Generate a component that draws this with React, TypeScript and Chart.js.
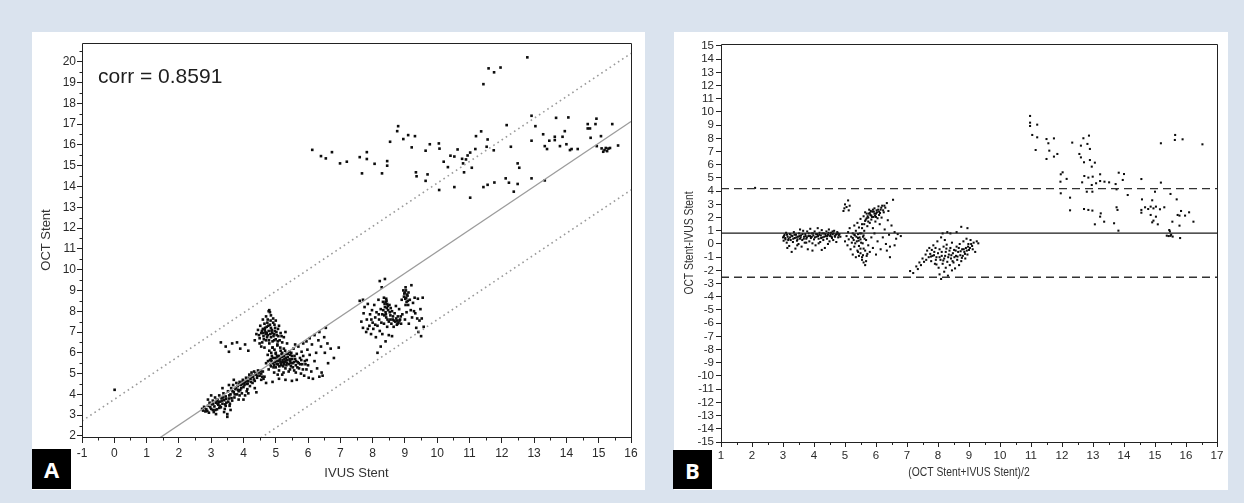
import React, { useEffect, useRef } from "react";
import { Chart, registerables } from "chart.js";

Chart.register(...registerables);

type P = [number, number];

// ---------------- Panel A : OCT Stent vs IVUS Stent ----------------
const aOutlier: P[] = [[0.01, 4.22]];

const aClusterLow: P[] = [
  [2.72,3.30],[2.75,3.22],[2.80,3.35],[2.82,3.18],[2.85,3.28],[2.9,3.45],[2.93,3.12],[2.95,3.6],[3.0,3.3],[3.02,3.52],
  [3.05,3.7],[3.08,3.15],[3.1,3.42],[3.12,3.85],[3.15,3.6],[3.18,3.28],[3.2,3.75],[3.22,3.5],[3.25,3.95],[3.28,3.65],
  [3.3,3.38],[3.32,3.82],[3.35,3.55],[3.38,4.05],[3.4,3.72],[3.42,3.3],[3.45,3.9],[3.47,3.6],[3.5,2.92],[3.5,3.05],
  [3.52,4.15],[3.55,3.8],[3.57,3.45],[3.6,4.0],[3.62,4.3],[3.65,3.7],[3.68,4.45],[3.7,4.1],[3.72,3.85],[3.75,4.25],
  [3.78,4.55],[3.8,4.0],[3.82,4.4],[3.85,3.75],[3.88,4.6],[3.9,4.2],[3.92,4.45],[3.95,4.05],[3.98,4.7],[4.0,4.35],
  [4.02,4.55],[4.05,3.95],[4.08,4.8],[4.1,4.5],[4.12,4.25],[4.15,4.65],[4.18,4.95],[4.2,4.4],[4.22,4.75],[4.25,5.05],
  [4.28,4.55],[4.3,4.85],[4.33,5.1],[4.35,4.65],[4.38,4.95],[4.42,4.8],[4.45,5.15],[4.5,4.9],[4.55,5.0],[4.62,4.75],
  [4.7,4.55],[3.0,3.95],[2.9,3.75],[3.6,3.25],[4.0,3.75],[4.15,4.05],[3.35,4.3],[3.7,4.7],[4.35,4.3],[3.15,3.05],
  [3.45,3.45],[3.85,4.15],[4.05,4.6],[4.25,4.85],[3.25,3.35],[3.95,4.5],[4.4,4.1],[3.55,4.45]
];
const aClusterLowDense: P[] = [
  [2.78,3.4],[2.88,3.2],[2.97,3.38],[3.06,3.55],[3.13,3.25],[3.17,3.7],[3.23,3.62],[3.27,3.45],[3.33,3.7],[3.37,3.85],
  [3.43,3.52],[3.46,3.78],[3.53,3.65],[3.56,3.95],[3.63,3.82],[3.66,4.15],[3.73,4.0],[3.77,4.32],[3.83,4.22],[3.87,4.48],
  [3.93,4.3],[3.97,4.6],[4.03,4.45],[4.07,4.65],[4.13,4.52],[4.17,4.8],[4.23,4.6],[4.27,4.9],[4.32,4.72],[4.37,5.02],
  [4.43,4.9],[4.47,5.05],[4.53,5.12],[4.58,4.85],[3.4,3.15],[3.58,3.55],[3.88,3.95],[4.1,4.15],[3.2,3.55],[3.05,3.25]
];

const aClusterUpper: P[] = [
  [4.4,6.9],[4.45,7.1],[4.5,6.7],[4.52,7.3],[4.55,6.95],[4.58,6.5],[4.6,7.15],[4.62,6.8],[4.65,7.4],[4.68,7.0],
  [4.7,6.6],[4.72,7.25],[4.75,6.85],[4.75,7.6],[4.78,7.05],[4.8,8.05],[4.8,6.45],[4.82,7.35],[4.85,6.75],[4.85,7.8],
  [4.88,7.1],[4.9,6.55],[4.92,7.45],[4.95,6.9],[4.98,7.2],[5.0,6.65],[5.02,7.0],[5.05,6.4],[5.08,6.8],[5.1,7.3],
  [5.12,6.6],[5.15,6.95],[5.2,6.5],[5.25,6.75],[4.55,6.3],[4.65,6.25],[4.9,6.25],[5.0,7.55],[4.7,7.75],[4.6,7.6],
  [5.3,7.0],[4.5,6.45],[4.35,6.6],[4.72,6.95],[4.85,7.2],[4.95,6.6]
];
const aClusterUpperDense: P[] = [
  [4.48,6.85],[4.57,7.05],[4.63,6.65],[4.67,7.2],[4.73,6.75],[4.77,7.3],[4.83,6.9],[4.87,7.05],[4.93,6.8],[4.97,7.05],
  [5.03,6.85],[5.07,7.15],[4.69,6.9],[4.79,6.6],[4.89,6.95],[4.61,6.95],[4.74,7.45],[4.84,7.55],[4.96,7.35],[5.06,6.55],
  [5.18,6.8],[4.78,8.0],[4.82,7.95],[4.66,7.1],[4.92,7.65]
];

const aScatterLeft: P[] = [
  [3.3,6.5],[3.45,6.3],[3.55,6.05],[3.65,6.45],[3.8,6.5],[3.9,6.2],[4.05,6.4],[4.15,6.1]
];

const aClusterMid: P[] = [
  [4.7,5.5],[4.75,5.9],[4.78,5.2],[4.8,6.1],[4.82,5.65],[4.85,5.35],[4.88,5.85],[4.9,6.25],[4.92,5.5],[4.95,5.05],
  [4.97,5.75],[5.0,6.0],[5.0,5.3],[5.02,5.6],[5.05,6.35],[5.07,5.45],[5.1,5.85],[5.1,5.15],[5.12,5.65],[5.15,6.1],
  [5.17,5.4],[5.2,5.8],[5.2,4.95],[5.22,5.55],[5.25,6.2],[5.27,5.7],[5.3,5.25],[5.32,5.95],[5.35,5.5],[5.37,5.8],
  [5.4,5.1],[5.42,6.05],[5.45,5.6],[5.47,5.35],[5.5,5.85],[5.52,5.5],[5.55,6.2],[5.57,5.15],[5.6,5.7],[5.62,5.4],
  [5.65,5.95],[5.68,5.55],[5.7,6.3],[5.72,5.25],[5.75,5.75],[5.78,5.0],[5.8,6.05],[5.82,5.45],[5.85,5.85],[5.88,4.9],
  [5.9,5.6],[5.95,5.2],[5.98,6.15],[6.0,5.4],[6.02,4.8],[6.05,5.9],[6.1,5.1],[6.12,6.4],[6.15,4.75],[6.2,5.6],
  [6.25,6.0],[6.28,5.25],[6.32,6.6],[6.35,4.85],[6.4,6.3],[6.42,5.05],[6.45,4.9],[6.5,6.75],[6.52,6.0],[6.55,7.2],
  [6.6,6.45],[6.62,5.5],[6.7,6.2],[6.8,5.75],[6.95,6.25],[5.1,4.75],[4.9,4.6],[4.65,4.85],[5.3,4.7],[5.5,4.65],
  [5.65,4.7],[4.6,5.1],[4.55,4.7],[5.95,6.55],[6.05,6.7],[6.2,6.85],[6.35,7.0],[5.85,6.45],[5.6,6.4],[5.35,6.45],
  [4.95,5.4],[5.05,5.75],[5.15,5.55],[5.25,5.45],[5.35,5.65],[5.45,5.9],[5.0,5.95],[5.2,6.0],[4.85,5.7],[5.3,5.6]
];
const aClusterMidDense: P[] = [
  [4.83,5.45],[4.87,5.6],[4.91,5.75],[4.93,5.3],[4.98,5.55],[5.03,5.45],[5.04,5.85],[5.08,5.6],[5.11,5.35],[5.13,5.75],
  [5.16,5.5],[5.18,5.95],[5.21,5.65],[5.23,5.35],[5.26,5.85],[5.28,5.55],[5.31,5.75],[5.33,5.4],[5.36,5.65],[5.38,5.95],
  [5.41,5.45],[5.43,5.7],[5.46,5.5],[5.48,6.0],[5.51,5.7],[5.53,5.3],[5.56,5.55],[5.58,5.85],[5.63,5.6],[5.67,5.3],
  [5.71,5.5],[5.76,5.45],[5.79,5.65],[5.84,5.2],[5.92,5.45],[4.96,6.15],[5.14,6.25],[5.29,6.1],[4.76,5.6],[4.86,6.0],
  [5.06,4.95],[5.24,5.05],[5.44,5.2],[5.62,5.05],[5.96,5.65]
];

const aClusterRight: P[] = [
  [7.6,8.5],[7.65,7.5],[7.7,7.2],[7.72,7.9],[7.75,8.2],[7.8,7.0],[7.82,7.6],[7.85,8.35],[7.9,7.3],[7.92,7.85],
  [7.95,6.9],[7.98,8.05],[8.0,7.45],[8.02,7.15],[8.05,8.3],[8.08,7.7],[8.1,6.75],[8.12,7.95],[8.15,7.3],[8.15,6.0],
  [8.18,8.55],[8.2,7.6],[8.22,9.45],[8.22,7.05],[8.25,8.1],[8.28,9.15],[8.3,7.85],[8.32,8.45],[8.35,7.4],[8.35,8.65],
  [8.38,9.55],[8.38,8.2],[8.4,7.95],[8.4,6.55],[8.42,8.6],[8.42,7.7],[8.45,8.35],[8.45,7.25],[8.48,8.05],[8.5,7.5],
  [8.5,6.85],[8.52,8.3],[8.55,7.8],[8.58,7.4],[8.6,8.0],[8.62,7.6],[8.65,7.25],[8.68,7.9],[8.7,7.5],[8.72,8.25],
  [8.75,7.35],[8.78,7.75],[8.8,7.45],[8.82,8.1],[8.85,7.6],[8.88,7.4],[8.9,8.55],[8.92,7.85],[8.95,9.0],[8.97,8.7],
  [9.0,8.9],[9.0,7.6],[9.02,9.15],[9.05,8.45],[9.05,7.95],[9.08,8.75],[9.1,8.3],[9.12,7.4],[9.15,8.55],[9.18,8.05],
  [9.2,9.25],[9.22,7.7],[9.25,8.4],[9.3,8.65],[9.32,7.9],[9.35,7.2],[9.4,8.6],[9.42,7.0],[9.45,7.55],[9.48,8.1],
  [9.5,6.8],[9.52,7.65],[9.55,8.65],[9.58,7.25],[8.25,6.3],[8.3,6.9],[8.6,6.8],[7.7,8.55],[7.85,7.15],[8.4,8.45],
  [8.44,8.15],[8.36,7.8],[9.04,8.65],[9.02,8.3],[8.75,7.55],[8.55,7.6]
];
const aClusterRightDense: P[] = [
  [8.33,8.05],[8.37,8.35],[8.41,7.85],[8.43,8.5],[8.46,7.6],[8.47,8.25],[8.53,7.95],[8.56,8.15],[8.63,7.75],[8.66,7.55],
  [8.73,7.65],[8.77,7.4],[8.83,7.55],[8.87,7.75],[8.98,8.85],[9.01,8.6],[9.03,9.0],[9.06,8.8],[9.09,8.5],[9.11,8.9],
  [8.27,7.45],[8.19,7.85],[8.08,7.35],[7.96,7.6],[9.28,8.0],[9.38,7.65]
];

const aHighScatter: P[] = [
  [6.13,15.76],[6.4,15.46],[6.55,15.35],[6.74,15.65],[6.99,15.11],[7.2,15.19],[7.6,15.41],[7.82,15.65],[7.67,14.63],[7.82,15.32],
  [8.06,15.09],[8.29,14.63],[8.45,15.22],[8.45,15.0],
  [12.79,20.21],[11.59,19.68],[11.76,19.49],[11.96,19.72],[11.43,18.92],[8.79,16.9],[8.76,16.66],[8.54,16.15],[8.95,16.28],[9.1,16.47],
  [9.31,16.42],[9.21,15.88],[9.64,15.72],[9.77,16.03],[10.05,16.07],[10.07,15.82],[9.34,14.68],[9.36,14.49],[9.7,14.58],[9.64,14.27],
  [10.06,13.83],[10.2,15.19],[10.33,14.93],[10.41,15.48],[10.53,15.44],[10.63,15.78],[10.77,15.33],[10.8,15.11],[10.89,15.3],[10.94,15.49],
  [11.02,15.63],[11.18,15.8],[11.2,16.42],[11.36,16.65],[11.07,14.9],[10.83,14.68],[10.53,13.97],[11.02,13.46],[11.56,16.26],[11.53,15.91],
  [11.75,15.74],[11.43,13.97],[11.56,14.08],[11.77,14.19],[12.15,16.95],[12.28,15.91],[12.12,14.39],[12.22,14.18],[12.37,13.75],[12.49,14.12],
  [12.49,15.11],[12.54,14.9],[12.92,17.4],[13.04,16.9],[12.92,16.2],[12.92,14.39],[13.33,14.29],[13.28,16.51],[13.33,15.94],[13.4,15.8],
  [13.47,16.2],[13.64,16.39],[13.64,16.23],[13.68,17.3],[13.8,15.94],[13.88,16.39],[13.95,16.66],[14.06,17.32],[14.0,16.03],[14.11,15.75],
  [14.16,15.8],[14.35,15.8],[14.66,17.0],[14.66,16.79],[14.73,16.79],[14.93,17.26],[14.75,16.34],[14.9,17.0],[15.07,16.42],[14.94,15.94],
  [15.09,15.83],[15.14,15.67],[15.18,15.75],[15.22,15.85],[15.26,15.7],[15.3,15.82],[15.35,15.85],[15.42,17.0],[15.6,15.97]
];

const aFitLine: P[] = [[-1, -0.6], [16, 17.12]];
const aUpperBand: P[] = [[-1, 2.72], [16, 20.4]];
const aLowerBand: P[] = [[-1, -3.85], [16, 13.83]];

const aXMin = -1, aXMax = 16, aYMin = 1.95, aYMax = 20.9;
const aMinorX = [-0.5,0.5,1.5,2.5,3.5,4.5,5.5,6.5,7.5,8.5,9.5,10.5,11.5,12.5,13.5,14.5,15.5];
const aMinorY = [2.5,3.5,4.5,5.5,6.5,7.5,8.5,9.5,10.5,11.5,12.5,13.5,14.5,15.5,16.5,17.5,18.5,19.5,20.5];
const aCorrText = "corr = 0.8591";
const aXTitle = "IVUS Stent";
const aYTitle = "OCT Stent";

// ---------------- Panel B : Bland-Altman ----------------
const bOutlier: P[] = [[2.1, 4.25]];

const bClusterLeft: P[] = [
  [3.0,0.5],[3.02,0.25],[3.05,0.7],[3.08,0.35],[3.1,0.85],[3.12,0.1],[3.15,0.55],[3.18,0.4],[3.2,-0.15],[3.22,0.75],
  [3.25,0.3],[3.28,-0.6],[3.3,0.6],[3.32,0.15],[3.35,0.9],[3.38,0.45],[3.4,-0.35],[3.42,0.7],[3.45,0.25],[3.48,0.55],
  [3.5,0.0],[3.52,0.8],[3.55,0.4],[3.58,0.65],[3.6,-0.2],[3.62,0.3],[3.65,1.0],[3.68,0.55],[3.7,0.1],[3.72,0.75],
  [3.75,0.4],[3.78,0.95],[3.8,-0.4],[3.82,0.6],[3.85,0.2],[3.88,1.15],[3.9,0.45],[3.92,0.8],[3.95,0.05],[3.98,0.65],
  [4.0,0.35],[4.02,0.95],[4.05,-0.1],[4.08,0.55],[4.1,0.75],[4.12,1.2],[4.15,0.4],[4.18,0.85],[4.2,0.15],[4.22,0.65],
  [4.25,1.05],[4.28,0.5],[4.3,0.3],[4.32,0.8],[4.35,-0.3],[4.38,0.6],[4.4,0.95],[4.42,0.4],[4.45,0.7],[4.48,1.1],
  [4.5,0.2],[4.52,0.6],[4.55,0.85],[4.58,0.45],[4.6,0.75],[4.62,0.3],[4.65,1.0],[4.68,0.55],[4.7,0.7],[4.72,0.15],
  [4.75,0.9],[4.78,0.5],[4.8,0.65],[3.95,-0.5],[4.25,-0.45],[4.45,0.0],[3.55,1.1],[3.75,0.1],[4.15,0.05],[4.6,0.95]
];
const bClusterLeftDense: P[] = [
  [3.03,0.6],[3.07,0.45],[3.13,0.7],[3.17,0.3],[3.23,0.5],[3.27,0.65],[3.33,0.4],[3.37,0.7],[3.43,0.5],[3.47,0.35],
  [3.53,0.6],[3.57,0.5],[3.63,0.75],[3.67,0.4],[3.73,0.6],[3.77,0.5],[3.83,0.8],[3.87,0.6],[3.93,0.55],[3.97,0.8],
  [4.03,0.5],[4.07,0.75],[4.13,0.6],[4.17,0.7],[4.23,0.45],[4.27,0.8],[4.33,0.55],[4.37,0.75],[4.43,0.6],[4.47,0.85],
  [4.53,0.7],[4.57,0.55],[4.63,0.8],[4.67,0.6],[4.73,0.75],[4.77,0.8],[4.82,0.75],[4.85,0.55],[3.14,-0.3],[3.46,-0.1]
];

const bClusterMid: P[] = [
  [4.95,2.5],[4.98,2.7],[5.0,3.0],[5.05,2.8],[5.1,3.3],[5.12,2.55],[5.15,2.9],
  [5.0,0.2],[5.05,0.6],[5.08,-0.1],[5.1,0.9],[5.12,0.35],[5.15,1.2],[5.18,-0.4],[5.2,0.55],[5.22,0.1],
  [5.25,0.8],[5.25,-0.8],[5.28,0.3],[5.3,1.4],[5.3,-0.2],[5.32,0.65],[5.35,-1.0],[5.35,1.0],[5.38,0.2],[5.4,-0.5],
  [5.4,1.6],[5.42,0.45],[5.45,-0.15],[5.45,1.25],[5.48,0.8],[5.5,-0.7],[5.5,1.9],[5.52,0.1],[5.55,1.5],[5.55,-1.2],
  [5.58,0.55],[5.6,2.1],[5.6,-0.35],[5.62,1.0],[5.65,-1.6],[5.65,1.75],[5.68,0.3],[5.7,2.3],[5.7,-0.9],[5.72,1.35],
  [5.75,2.0],[5.75,-0.1],[5.78,2.6],[5.8,1.6],[5.8,-0.6],[5.82,2.2],[5.85,0.5],[5.85,1.85],[5.88,2.45],[5.9,-0.3],
  [5.9,1.2],[5.92,2.05],[5.95,2.7],[5.95,0.8],[5.98,1.7],[6.0,2.3],[6.0,-0.8],[6.02,2.55],[6.05,1.95],[6.05,0.2],
  [6.08,2.85],[6.1,2.2],[6.12,1.5],[6.15,2.6],[6.15,-0.4],[6.18,2.0],[6.2,2.9],[6.22,0.5],[6.25,2.4],[6.28,1.1],
  [6.3,2.75],[6.32,0.0],[6.35,3.1],[6.38,1.8],[6.4,2.5],[6.42,0.7],[6.45,-0.2],[6.5,1.4],[6.55,3.35],[6.6,0.9],
  [6.6,-0.1],[6.65,0.4],[6.7,0.75],[6.8,0.6],[6.45,-1.0],[6.35,-0.5],[5.6,-1.4],[5.68,-1.3],[5.55,-1.0],[5.45,-0.9],
  [5.72,-0.75],[5.65,2.4],[5.9,2.6],[6.0,2.05],[5.8,2.35],[6.1,2.45],[5.7,1.95],[5.95,2.3]
];
const bClusterMidDense: P[] = [
  [5.25,0.45],[5.3,0.7],[5.33,0.05],[5.37,0.55],[5.42,0.75],[5.44,0.25],[5.47,0.5],[5.5,0.35],[5.53,0.8],[5.57,0.05],
  [5.6,0.65],[5.63,0.4],[5.55,1.2],[5.62,1.5],[5.67,1.85],[5.73,2.1],[5.77,2.3],[5.83,2.5],[5.87,2.05],[5.93,2.45],
  [5.97,2.15],[6.03,2.4],[6.07,2.6],[6.13,2.35],[6.17,2.75],[6.23,2.55],[6.27,2.9],[5.75,1.7],[5.85,2.15],[5.65,-0.5],
  [5.58,-0.85],[5.5,-0.35],[5.42,-0.6]
];

const bClusterRight: P[] = [
  [7.1,-2.05],[7.2,-2.2],[7.3,-1.7],[7.35,-1.9],[7.4,-1.4],[7.45,-1.6],[7.5,-1.1],[7.55,-1.35],[7.6,-0.8],[7.62,-1.2],
  [7.65,-0.5],[7.7,-1.0],[7.72,-0.3],[7.75,-0.75],[7.78,-1.3],[7.8,-0.45],[7.82,-0.9],[7.85,-0.1],[7.88,-0.6],[7.9,-1.5],
  [7.92,-0.3],[7.95,-1.0],[7.98,0.2],[8.0,-0.7],[8.02,-1.8],[8.05,-0.4],[8.05,-2.3],[8.08,-1.2],[8.1,0.5],[8.1,-2.65],
  [8.12,-0.9],[8.15,-1.5],[8.15,0.8],[8.18,-0.2],[8.2,-2.1],[8.2,-1.1],[8.22,0.3],[8.25,-0.6],[8.25,-1.8],[8.28,-0.05],
  [8.3,-1.35],[8.3,0.9],[8.32,-2.4],[8.35,-0.8],[8.38,-1.6],[8.4,-0.3],[8.42,-1.1],[8.45,0.1],[8.45,-2.0],[8.48,-0.7],
  [8.5,-1.4],[8.52,-0.45],[8.55,-1.85],[8.58,-0.9],[8.6,-0.2],[8.62,-1.2],[8.65,-0.6],[8.68,-1.6],[8.7,0.0],[8.72,-0.85],
  [8.75,-1.3],[8.78,-0.4],[8.8,-0.9],[8.82,0.2],[8.85,-0.6],[8.88,-1.1],[8.9,-0.3],[8.92,0.4],[8.95,-0.8],[8.98,0.0],
  [9.0,-0.45],[9.05,0.3],[9.1,-0.15],[9.15,0.1],[9.2,-0.6],[9.25,0.2],[9.3,0.05],[8.75,1.3],[8.95,1.2],[8.6,0.9],
  [8.4,0.8],[7.95,-1.55]
];
const bClusterRightDense: P[] = [
  [8.05,-1.0],[8.12,-0.6],[8.17,-1.25],[8.23,-0.9],[8.27,-0.35],[8.33,-1.0],[8.37,-0.5],[8.43,-0.85],[8.47,-1.3],[8.53,-1.0],
  [8.57,-0.5],[8.63,-0.95],[8.67,-0.3],[8.73,-0.55],[8.77,-1.05],[8.83,-0.4],[8.87,-0.75],[8.93,-0.5],[8.97,-0.2],[9.03,-0.3],
  [9.07,0.0],[9.12,-0.4],[7.87,-0.85],[7.93,-1.2],[7.77,-0.95]
];

const bHighScatter: P[] = [
  [10.97,9.7],[10.97,9.19],[10.97,8.94],[11.2,9.04],[11.04,8.26],[11.2,8.08],[11.5,7.95],[11.56,7.63],[11.74,8.0],[11.15,7.12],
  [11.59,7.07],[11.85,6.82],[11.74,6.62],[11.5,6.44],[12.33,7.68],[12.61,7.45],[12.69,8.01],[12.87,8.21],[12.82,7.58],[12.9,7.2],
  [12.56,6.82],[12.61,6.56],[12.71,6.19],[12.9,6.36],[13.06,6.16],[12.96,5.86],[12.02,5.43],[11.96,5.28],[12.15,4.93],[11.95,4.72],
  [11.96,3.84],[12.26,3.51],[12.26,2.55],[12.72,5.15],[12.85,5.03],[12.99,5.1],[12.96,4.47],[13.1,4.6],[13.23,4.77],[13.37,4.72],
  [13.52,4.67],[13.23,5.28],[12.65,4.67],[12.8,3.96],[12.98,3.96],[13.73,4.54],[13.76,4.14],[13.83,5.4],[14.0,5.3],[13.96,4.85],
  [14.12,3.71],[12.71,2.65],[12.85,2.58],[12.98,2.53],[13.25,2.32],[13.23,2.07],[13.36,1.69],[13.06,1.49],[13.68,1.57],[13.79,2.58],
  [13.76,2.78],[13.82,1.01],[14.56,4.92],[15.19,4.65],[14.58,3.38],[14.91,3.31],[15.0,3.96],[15.5,3.79],[15.7,3.38],[14.56,2.58],
  [14.56,2.37],[14.68,2.78],[14.78,2.65],[14.86,2.83],[14.95,2.7],[15.03,2.83],[15.16,2.63],[15.3,2.78],[14.86,2.2],[15.03,2.07],
  [14.95,1.77],[14.91,1.64],[15.09,1.49],[15.56,1.69],[15.73,2.2],[15.79,2.15],[15.84,2.5],[15.97,2.15],[16.1,2.4],[16.24,1.69],
  [15.79,1.39],[15.46,1.06],[15.48,0.95],[15.38,0.63],[15.44,0.6],[15.5,0.62],[15.57,0.56],[15.52,0.7],[15.81,0.45],[15.19,7.63],
  [15.65,8.26],[15.64,7.88],[15.89,7.93],[16.53,7.55]
];

const bMeanLine: P[] = [[1, 0.83], [17, 0.83]];
const bUpperLoA: P[] = [[1, 4.2], [17, 4.2]];
const bLowerLoA: P[] = [[1, -2.52], [17, -2.52]];

const bXMin = 1, bXMax = 17, bYMin = -15, bYMax = 15.15;
const bMinorX = [1.5,2.5,3.5,4.5,5.5,6.5,7.5,8.5,9.5,10.5,11.5,12.5,13.5,14.5,15.5,16.5];
const bXTitle = "(OCT Stent+IVUS Stent)/2";
const bYTitle = "OCT Stent-IVUS Stent";

// ---------------- helpers ----------------
const FONT = '"Liberation Sans", Arial, Helvetica, sans-serif';
const toXY = (arr: P[]) => arr.map(([x, y]) => ({ x, y }));

function makeDecor(opts: {
  id: string;
  minorX: number[];
  minorY: number[];
  minorLen: number;
  xTitle: string;
  yTitle: string;
  titleSize: number;
  titleScale: number;
  yTitleX: number;
  xTitleY: number;
  corr?: string;
}) {
  return {
    id: opts.id,
    afterDraw(chart: any) {
      const { ctx, chartArea: ca, scales } = chart;
      const xs = scales.x, ys = scales.y;
      ctx.save();
      ctx.strokeStyle = "#222";
      ctx.lineWidth = 1;
      const l = Math.round(ca.left) + 0.5, r = Math.round(ca.right) + 0.5;
      const t = Math.round(ca.top) + 0.5, b = Math.round(ca.bottom) + 0.5;
      ctx.beginPath();
      ctx.rect(l, t, r - l, b - t);
      ctx.stroke();
      ctx.beginPath();
      for (const v of opts.minorX) {
        const px = Math.round(xs.getPixelForValue(v)) + 0.5;
        ctx.moveTo(px, b);
        ctx.lineTo(px, b + opts.minorLen);
      }
      for (const v of opts.minorY) {
        const py = Math.round(ys.getPixelForValue(v)) + 0.5;
        ctx.moveTo(l, py);
        ctx.lineTo(l - opts.minorLen, py);
      }
      ctx.stroke();
      ctx.fillStyle = "#333";
      ctx.font = `${opts.titleSize}px ${FONT}`;
      ctx.textAlign = "center";
      ctx.textBaseline = "middle";
      ctx.save();
      ctx.translate((ca.left + ca.right) / 2, opts.xTitleY);
      ctx.scale(opts.titleScale, 1);
      ctx.fillText(opts.xTitle, 0, 0);
      ctx.restore();
      ctx.save();
      ctx.translate(opts.yTitleX, (ca.top + ca.bottom) / 2);
      ctx.rotate(-Math.PI / 2);
      ctx.scale(opts.titleScale, 1);
      ctx.fillText(opts.yTitle, 0, 0);
      ctx.restore();
      if (opts.corr) {
        ctx.fillStyle = "#1e1e1e";
        ctx.font = `21px ${FONT}`;
        ctx.textAlign = "left";
        ctx.textBaseline = "alphabetic";
        ctx.fillText(opts.corr, ca.left + 16, ca.top + 40);
      }
      ctx.restore();
    },
  };
}

function useChart(ref: React.RefObject<HTMLCanvasElement>, build: () => any) {
  useEffect(() => {
    if (!ref.current) return;
    const chart = new Chart(ref.current, build());
    return () => chart.destroy();
  }, []);
}

function scatterDs(data: P[], radius: number) {
  return {
    type: "scatter",
    data: toXY(data),
    pointStyle: "rect",
    pointRadius: radius,
    pointBorderWidth: 0,
    pointBackgroundColor: "#0d0d0d",
    borderWidth: 0,
    showLine: false,
  };
}
function lineDs(data: P[], color: string, width: number, dash: number[]) {
  return {
    type: "line",
    data: toXY(data),
    borderColor: color,
    borderWidth: width,
    borderDash: dash,
    pointRadius: 0,
    showLine: true,
    fill: false,
    tension: 0,
  };
}

function axisX(min: number, max: number, fontSize: number, tickLen: number, pad: number, height: number) {
  return {
    type: "linear",
    min,
    max,
    offset: false,
    afterFit: (s: any) => { s.height = height; },
    border: { display: false },
    grid: { drawOnChartArea: false, drawTicks: true, tickLength: tickLen, color: "#222", lineWidth: 1 },
    ticks: { stepSize: 1, includeBounds: false, autoSkip: false, maxRotation: 0, padding: pad, color: "#2a2a2a", font: { size: fontSize, family: FONT } },
  };
}
function axisY(min: number, max: number, fontSize: number, tickLen: number, pad: number, width: number) {
  return {
    type: "linear",
    min,
    max,
    afterFit: (s: any) => { s.width = width; },
    border: { display: false },
    grid: { drawOnChartArea: false, drawTicks: true, tickLength: tickLen, color: "#222", lineWidth: 1 },
    ticks: { stepSize: 1, includeBounds: false, autoSkip: false, padding: pad, color: "#2a2a2a", font: { size: fontSize, family: FONT } },
  };
}

function PanelA() {
  const ref = useRef<HTMLCanvasElement>(null);
  useChart(ref, () => ({
    type: "scatter",
    data: {
      datasets: [
        lineDs(aUpperBand, "#9a9a9a", 1.6, [1.6, 3.4]),
        lineDs(aLowerBand, "#9a9a9a", 1.6, [1.6, 3.4]),
        lineDs(aFitLine, "#9c9c9c", 1.3, []),
        scatterDs([
          ...aOutlier, ...aClusterLow, ...aClusterLowDense, ...aClusterUpper, ...aClusterUpperDense,
          ...aScatterLeft, ...aClusterMid, ...aClusterMidDense, ...aClusterRight, ...aClusterRightDense, ...aHighScatter,
        ], 1.85),
      ],
    },
    options: {
      animation: false,
      responsive: false,
      events: [],
      layout: { padding: { left: 0, right: 14, top: 11, bottom: 0 } },
      plugins: { legend: { display: false }, tooltip: { enabled: false } },
      scales: {
        x: axisX(aXMin, aXMax, 12, 6, 3, 53),
        y: axisY(aYMin, aYMax, 12, 5, 1, 50),
      },
    },
    plugins: [
      makeDecor({
        id: "decorA", minorX: aMinorX, minorY: aMinorY, minorLen: 3,
        xTitle: aXTitle, yTitle: aYTitle, titleSize: 13, titleScale: 1,
        yTitleX: 14.5, xTitleY: 441, corr: aCorrText,
      }),
    ],
  }));
  return <canvas ref={ref} width={613} height={458} style={{ position: "absolute", left: 32, top: 32, width: 613, height: 458 }} />;
}

function PanelB() {
  const ref = useRef<HTMLCanvasElement>(null);
  useChart(ref, () => ({
    type: "scatter",
    data: {
      datasets: [
        lineDs(bUpperLoA, "#333", 1.3, [8, 5]),
        lineDs(bLowerLoA, "#333", 1.3, [8, 5]),
        lineDs(bMeanLine, "#1a1a1a", 1.2, []),
        scatterDs([
          ...bOutlier, ...bClusterLeft, ...bClusterLeftDense, ...bClusterMid, ...bClusterMidDense,
          ...bClusterRight, ...bClusterRightDense, ...bHighScatter,
        ], 1.45),
      ],
    },
    options: {
      animation: false,
      responsive: false,
      events: [],
      layout: { padding: { left: 0, right: 11, top: 12, bottom: 0 } },
      plugins: { legend: { display: false }, tooltip: { enabled: false } },
      scales: {
        x: axisX(bXMin, bXMax, 11.5, 5, 2, 48),
        y: axisY(bYMin, bYMax, 11.5, 5, 2, 47),
      },
    },
    plugins: [
      makeDecor({
        id: "decorB", minorX: bMinorX, minorY: [], minorLen: 2.5,
        xTitle: bXTitle, yTitle: bYTitle, titleSize: 12, titleScale: 0.86,
        yTitleX: 15.5, xTitleY: 441,
      }),
    ],
  }));
  return <canvas ref={ref} width={554} height={458} style={{ position: "absolute", left: 674, top: 32, width: 554, height: 458 }} />;
}

const tagStyle: React.CSSProperties = {
  position: "absolute",
  width: 39,
  height: 40,
  background: "#000",
  color: "#fff",
  font: 'bold 22px "Open Sans", "DejaVu Sans", sans-serif',
  display: "flex",
  alignItems: "center",
  justifyContent: "center",
};

export default function App() {
  return (
    <div style={{ position: "fixed", left: 0, top: 0, width: 1244, height: 503, background: "#dae3ee", overflow: "hidden" }}>
      <div style={{ position: "absolute", left: 32, top: 32, width: 613, height: 458, background: "#fff" }} />
      <div style={{ position: "absolute", left: 674, top: 32, width: 554, height: 458, background: "#fff" }} />
      <PanelA />
      <PanelB />
      <div style={{ ...tagStyle, left: 32, top: 449 }}>A</div>
      <div style={{ ...tagStyle, left: 673, top: 450, height: 39 }}>B</div>
    </div>
  );
}
